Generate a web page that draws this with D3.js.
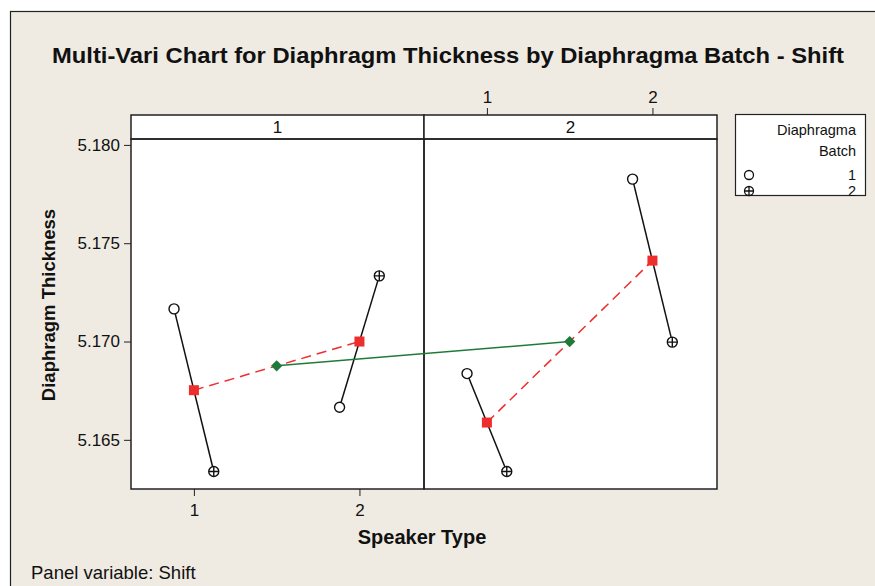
<!DOCTYPE html>
<html lang="en">
<head>
  <meta charset="utf-8">
  <script src="https://cdn.jsdelivr.net/npm/d3@7"></script>
  <style>
    body { margin: 0; background: #ffffff; }
    text { font-family: "Liberation Sans", Arial, sans-serif; fill: #111; }
    .narrow { font-family: "Liberation Sans Narrow", "Liberation Sans", Arial, sans-serif; }
  </style>
</head>
<body>
<div id="chart"></div>
<script>
// panels (Shift), speaker types, batches
var shifts = ["1", "2"];
var speakerTypes = [1, 2];
var batches = ["1", "2"];

// Diaphragm thickness, index = speaker type 1, 2
var shift1Batch1 = [5.17166, 5.16666];
var shift1Batch2 = [5.16339, 5.17334];
var shift2Batch1 = [5.16837, 5.17826];
var shift2Batch2 = [5.16339, 5.16997];

var yTicks = [5.165, 5.170, 5.175, 5.180];

var W = 875, H = 586;
var plot = {left: 131, right: 717, top: 139, bottom: 489, stripTop: 115};

var svg = d3.select("#chart").append("svg")
    .attr("width", W).attr("height", H);

// outer frame
svg.append("rect")
    .attr("x", 10.5).attr("y", 11.5)
    .attr("width", W + 10).attr("height", H + 10)
    .attr("fill", "#efebe2").attr("stroke", "#222").attr("stroke-width", 1.2);

svg.append("text")
    .attr("x", 448).attr("y", 63)
    .attr("text-anchor", "middle")
    .style("font-size", "22px").style("font-weight", "bold")
    .attr("textLength", 792).attr("lengthAdjust", "spacingAndGlyphs")
    .text("Multi-Vari Chart for Diaphragm Thickness by Diaphragma Batch - Shift");

// scales
var panelX = d3.scaleBand().domain(shifts).range([plot.left, plot.right]);
var innerX = d3.scaleLinear().domain([0.62, 2.39]).range([0, panelX.bandwidth()]);
var batchOffset = d3.scalePoint().domain(batches).range([-0.12, 0.12]);
var y = d3.scaleLinear().domain([5.1625, 5.1803]).range([plot.bottom, plot.top]);

function xPos(shift, speaker, batch) {
  var v = speaker + (batch ? batchOffset(batch) : 0);
  return panelX(shift) + innerX(v);
}

// plot area + strips
svg.append("rect")
    .attr("x", plot.left).attr("y", plot.stripTop)
    .attr("width", plot.right - plot.left).attr("height", plot.bottom - plot.stripTop)
    .attr("fill", "#fff");

shifts.forEach(function(s) {
  svg.append("rect")
      .attr("x", panelX(s)).attr("y", plot.stripTop)
      .attr("width", panelX.bandwidth()).attr("height", plot.top - plot.stripTop)
      .attr("fill", "#fff").attr("stroke", "#222").attr("stroke-width", 1.5);
  svg.append("text")
      .attr("class", "narrow")
      .attr("x", panelX(s) + panelX.bandwidth() / 2).attr("y", plot.top - 6)
      .attr("text-anchor", "middle")
      .style("font-size", "17px")
      .text(s);
  svg.append("rect")
      .attr("x", panelX(s)).attr("y", plot.top)
      .attr("width", panelX.bandwidth()).attr("height", plot.bottom - plot.top)
      .attr("fill", "none").attr("stroke", "#222").attr("stroke-width", 1.5);
});

// axes
var yAxis = svg.append("g")
    .attr("transform", "translate(" + plot.left + ",0)")
    .call(d3.axisLeft(y).tickValues(yTicks).tickFormat(d3.format(".3f")).tickSize(7).tickPadding(4));
yAxis.select(".domain").remove();
yAxis.selectAll("text").style("font-size", "17px").attr("fill", "#111");

var bottomScale = d3.scaleLinear().domain(innerX.domain())
    .range([panelX("1"), panelX("1") + panelX.bandwidth()]);
var xAxis = svg.append("g")
    .attr("transform", "translate(0," + plot.bottom + ")")
    .call(d3.axisBottom(bottomScale).tickValues(speakerTypes).tickFormat(d3.format("d")).tickSize(7).tickPadding(8));
xAxis.select(".domain").remove();
xAxis.selectAll("text").style("font-size", "17px").attr("fill", "#111");

var topScale = d3.scaleLinear().domain(innerX.domain())
    .range([panelX("2"), panelX("2") + panelX.bandwidth()]);
var xTop = svg.append("g")
    .attr("transform", "translate(0," + plot.stripTop + ")")
    .call(d3.axisTop(topScale).tickValues(speakerTypes).tickFormat(d3.format("d")).tickSize(7).tickPadding(5));
xTop.select(".domain").remove();
xTop.selectAll("text").style("font-size", "17px").attr("fill", "#111");
svg.selectAll(".tick line").attr("stroke", "#222");

svg.append("text")
    .attr("transform", "translate(55,305) rotate(-90)")
    .attr("text-anchor", "middle")
    .style("font-size", "18.5px").style("font-weight", "bold")
    .text("Diaphragm Thickness");

svg.append("text")
    .attr("x", 422).attr("y", 544)
    .attr("text-anchor", "middle")
    .style("font-size", "20px").style("font-weight", "bold")
    .text("Speaker Type");

svg.append("text")
    .attr("x", 31).attr("y", 579)
    .style("font-size", "18.5px")
    .text("Panel variable: Shift");

// data rows
var dataByShift = {"1": [shift1Batch1, shift1Batch2], "2": [shift2Batch1, shift2Batch2]};

var gBatch = svg.append("g");
var gMeans = svg.append("g");
var gMarks = svg.append("g");

var shiftMeans = [];
shifts.forEach(function(s) {
  var rows = dataByShift[s];
  var speakerMeans = speakerTypes.map(function(sp, i) {
    var vals = rows.map(function(r) { return r[i]; });
    var pts = batches.map(function(b, j) { return {x: xPos(s, sp, b), y: y(vals[j]), batch: b}; });
    gBatch.append("path")
        .attr("d", d3.line().x(function(d) { return d.x; }).y(function(d) { return d.y; })(pts))
        .attr("fill", "none").attr("stroke", "#111").attr("stroke-width", 1.5);
    pts.forEach(function(p) {
      gMarks.append("circle")
          .attr("cx", p.x).attr("cy", p.y).attr("r", 5)
          .attr("fill", "#fff").attr("stroke", "#111").attr("stroke-width", 1.4);
      if (p.batch === "2") {
        gMarks.append("path")
            .attr("d", "M" + (p.x - 5) + "," + p.y + "H" + (p.x + 5) + "M" + p.x + "," + (p.y - 5) + "V" + (p.y + 5))
            .attr("stroke", "#111").attr("stroke-width", 1.4);
      }
    });
    return {x: xPos(s, sp), v: d3.mean(vals)};
  });
  gMeans.append("path")
      .attr("d", d3.line().x(function(d) { return d.x; }).y(function(d) { return y(d.v); })(speakerMeans))
      .attr("fill", "none").attr("stroke", "#ee2d2d").attr("stroke-width", 1.5)
      .attr("stroke-dasharray", "10,6");
  speakerMeans.forEach(function(m) {
    gMarks.append("rect")
        .attr("x", m.x - 5).attr("y", y(m.v) - 5).attr("width", 10).attr("height", 10)
        .attr("fill", "#ee2d2d");
  });
  shiftMeans.push({x: (xPos(s, 1) + xPos(s, 2)) / 2, v: d3.mean(speakerMeans, function(m) { return m.v; })});
});

gMeans.append("path")
    .attr("d", d3.line().x(function(d) { return d.x; }).y(function(d) { return y(d.v); })(shiftMeans))
    .attr("fill", "none").attr("stroke", "#1f7a3a").attr("stroke-width", 1.5);
shiftMeans.forEach(function(m) {
  gMarks.append("path")
      .attr("d", d3.symbol().type(d3.symbolSquare).size(64)())
      .attr("transform", "translate(" + m.x + "," + y(m.v) + ") rotate(45)")
      .attr("fill", "#1f7a3a");
});

// legend
var lg = svg.append("g");
lg.append("rect")
    .attr("x", 735.5).attr("y", 114.5).attr("width", 130).attr("height", 81)
    .attr("fill", "#fff").attr("stroke", "#222").attr("stroke-width", 1.2);
lg.append("text").attr("class", "narrow").attr("x", 856).attr("y", 135)
    .attr("text-anchor", "end").style("font-size", "14.5px").text("Diaphragma");
lg.append("text").attr("class", "narrow").attr("x", 856).attr("y", 156)
    .attr("text-anchor", "end").style("font-size", "14.5px").text("Batch");
batches.forEach(function(b, i) {
  var cy = 175 + i * 16;
  lg.append("circle").attr("cx", 749).attr("cy", cy).attr("r", 4.5)
      .attr("fill", "#fff").attr("stroke", "#111").attr("stroke-width", 1.3);
  if (b === "2") {
    lg.append("path")
        .attr("d", "M744.5," + cy + "H753.5M749," + (cy - 4.5) + "V" + (cy + 4.5))
        .attr("stroke", "#111").attr("stroke-width", 1.3);
  }
  lg.append("text").attr("class", "narrow").attr("x", 856).attr("y", cy + 5)
      .attr("text-anchor", "end").style("font-size", "14.5px").text(b);
});
</script>
</body>
</html>
